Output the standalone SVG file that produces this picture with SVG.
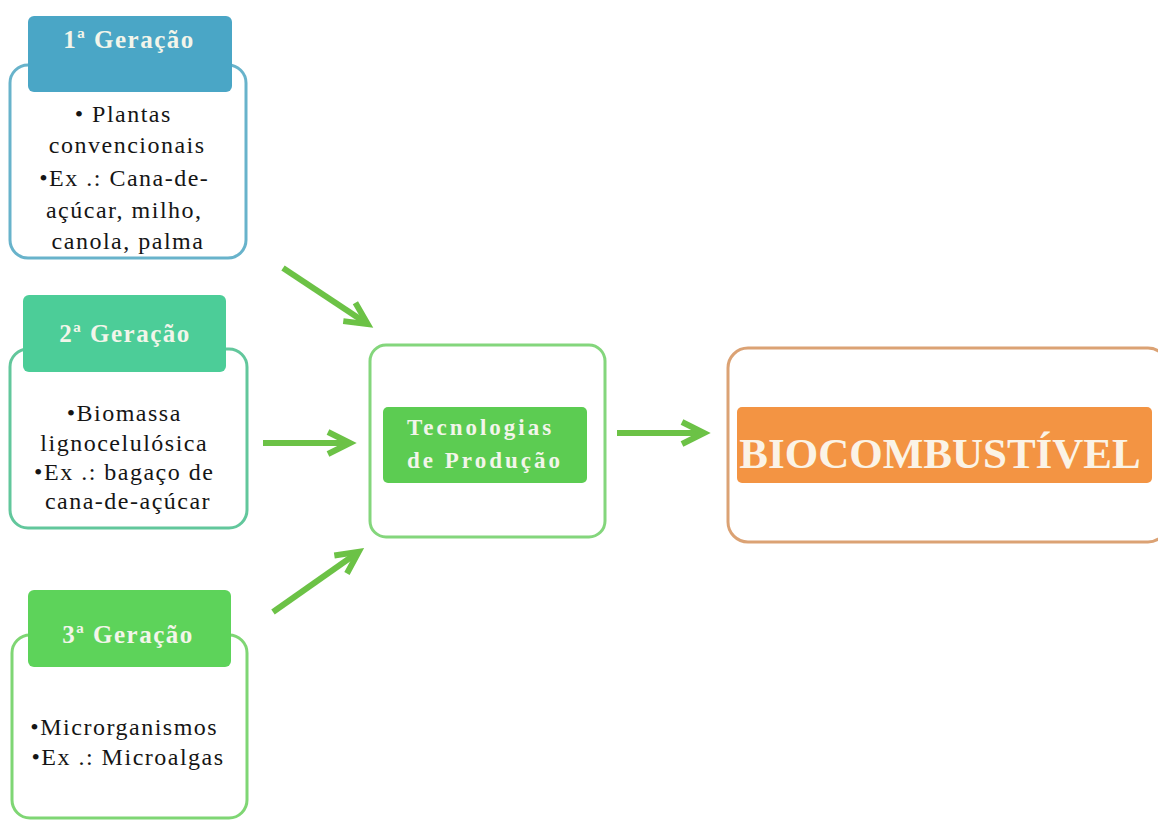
<svg xmlns="http://www.w3.org/2000/svg" width="1158" height="821" viewBox="0 0 1158 821">
  <style>
    .body { font-family: "Liberation Serif", "Times New Roman", serif; font-size: 24px; fill: #151515; letter-spacing: 1.5px; text-anchor: middle; }
    .head { font-family: "Liberation Serif", "Times New Roman", serif; font-weight: bold; font-size: 25px; fill: #f3f5ea; letter-spacing: 1.5px; text-anchor: middle; }
    .tech { font-family: "Liberation Serif", "Times New Roman", serif; font-weight: bold; font-size: 23px; fill: #f3f5ea; letter-spacing: 3px; text-anchor: middle; }
    .bio { font-family: "Liberation Serif", "Times New Roman", serif; font-weight: bold; font-size: 43px; fill: #fbf3e6; text-anchor: middle; }
    .frame { fill: #ffffff; stroke-width: 3; }
    .arrow { stroke: #6cc246; stroke-width: 6; fill: none; marker-end: url(#chev); }
  </style>
  <defs>
    <marker id="chev" markerUnits="userSpaceOnUse" markerWidth="40" markerHeight="40" viewBox="-30 -20 40 40" refX="0" refY="0" orient="auto" overflow="visible">
      <path d="M-20,-11 L2,0 L-20,11" fill="none" stroke="#6cc246" stroke-width="6" stroke-linejoin="miter"/>
    </marker>
  </defs>
  <rect width="1158" height="821" fill="#ffffff"/>

  <!-- first generation -->
  <g id="gen1">
    <rect class="frame" x="10" y="65" width="236" height="193" rx="18" stroke="#68b3cb"/>
    <rect x="28" y="16" width="204" height="76" rx="6" fill="#4aa6c6"/>
    <text class="head" x="129" y="48">1ª Geração</text>
    <text class="body">
      <tspan x="127" y="122">• Plantas</tspan>
      <tspan x="131" y="153">convencionais</tspan>
      <tspan x="128" y="186">•Ex .: Cana-de-</tspan>
      <tspan x="128" y="218">açúcar, milho,</tspan>
      <tspan x="128" y="249">canola, palma</tspan>
    </text>
  </g>

  <!-- second generation -->
  <g id="gen2">
    <rect class="frame" x="10" y="349" width="237" height="179" rx="18" stroke="#62c79c"/>
    <rect x="23" y="295" width="203" height="77" rx="6" fill="#4ccd98"/>
    <text class="head" x="125" y="342">2ª  Geração</text>
    <text class="body">
      <tspan x="128" y="421">•Biomassa</tspan>
      <tspan x="128" y="451">lignocelulósica</tspan>
      <tspan x="128" y="480">•Ex .: bagaço de</tspan>
      <tspan x="128" y="509">cana-de-açúcar</tspan>
    </text>
  </g>

  <!-- third generation -->
  <g id="gen3">
    <rect class="frame" x="12" y="635" width="235" height="183" rx="18" stroke="#7fd674"/>
    <rect x="28" y="590" width="203" height="77" rx="6" fill="#5dd35a"/>
    <text class="head" x="128" y="643">3ª Geração</text>
    <text class="body">
      <tspan x="128" y="735">•Microrganismos</tspan>
      <tspan x="128" y="765">•Ex .: Microalgas</tspan>
    </text>
  </g>

  <!-- production technologies -->
  <g id="tech">
    <rect class="frame" x="370" y="345" width="235" height="192" rx="16" stroke="#84d67c"/>
    <rect x="383" y="407" width="204" height="76" rx="5" fill="#5ccc52"/>
    <text class="tech">
      <tspan x="485" y="435">Tecnologias</tspan>
      <tspan x="485" y="468">de Produção</tspan>
    </text>
  </g>

  <!-- biofuel -->
  <g id="biofuel">
    <rect class="frame" x="728" y="348" width="440" height="194" rx="20" stroke="#dba274"/>
    <rect x="737" y="407" width="415" height="76" rx="5" fill="#f39443"/>
    <text class="bio" x="940" y="468">BIOCOMBUSTÍVEL</text>
  </g>

  <!-- connectors -->
  <g id="connectors">
    <line class="arrow" x1="283" y1="268" x2="366" y2="323"/>
    <line class="arrow" x1="263" y1="443" x2="348" y2="443"/>
    <line class="arrow" x1="273" y1="612" x2="357" y2="553"/>
    <line class="arrow" x1="617" y1="433" x2="702" y2="433"/>
  </g>
</svg>
